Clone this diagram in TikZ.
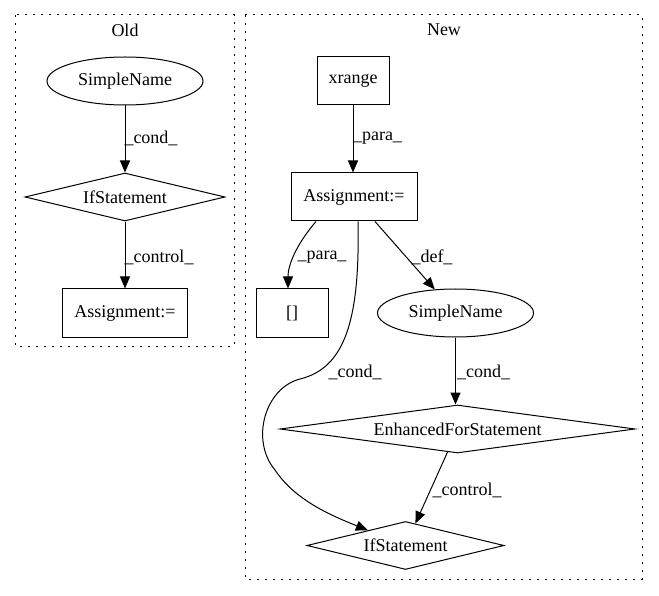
\documentclass[tikz,border=0pt]{standalone}
\usepackage{fontspec}
\setmainfont{Liberation Serif}
\usetikzlibrary{shapes.geometric,arrows.meta,calc}
\begin{document}
\begin{tikzpicture}[x=1pt,y=-1pt,
  every node/.style={font=\fontsize{18}{22}\selectfont, inner sep=0pt},
  boxnode/.style={draw, line width=1pt, rectangle, minimum height=48pt},
  ellnode/.style={draw, line width=1pt, ellipse, minimum width=156pt, minimum height=48pt},
  dianode/.style={draw, line width=1pt, diamond, minimum height=48pt},
  edge/.style={line width=1pt, -{Triangle[length=12pt,width=10pt]}},
  cluster/.style={draw, line width=1pt, dash pattern=on 2pt off 6pt}
]
\useasboundingbox (0,0) rectangle (659,596);
\draw[cluster] (15,15) rectangle (234,346);
\draw[cluster] (245,15) rectangle (642,579);
\node (oldlbl) at (125,30) {Old};
\node (newlbl) at (444,30) {New};

% Old
\node[ellnode] (osn) at (125,81) {SimpleName};
\node[dianode, minimum width=200pt, aspect=4.17] (oif) at (125,197) {IfStatement};
\node[boxnode, minimum width=125pt] (oasg) at (125,313) {Assignment:=};
\draw[edge] (osn) -- (oif);
\draw[edge] (oif) -- (oasg);
\node (ol1) at (151,138) {\_cond\_};
\node (ol2) at (159,257) {\_control\_};

% New
\node[boxnode, minimum width=72pt] (xr) at (353,81) {xrange};
\node[boxnode, minimum width=126pt] (asg) at (354,197) {Assignment:=};
\node[boxnode, minimum width=72pt] (br) at (292,313) {[]};
\node[ellnode] (nsn) at (455.5,313) {SimpleName};
\node[dianode, minimum width=355pt, aspect=7.4] (efs) at (457.5,429) {EnhancedForStatement};
\node[dianode, minimum width=197pt, aspect=4.2] (nif) at (405.5,545.5) {IfStatement};

\draw[edge] (xr.south) -- (xr.south |- asg.north);
\draw[edge] ($(asg.south)+(-38,0)$) .. controls (300,240) and (288,262) .. ($(br.north)+(-4,0)$);
\draw[edge] ($(asg.south)+(21,0)$) -- (nsn);
\draw[edge] ($(asg.south)+(4,0)$) .. controls (360,320) and (345,368) .. (300,379)
  .. controls (265,388) and (250,440) .. (275,470)
  .. controls (295,500) and (330,515) .. (nif);
\draw[edge] (nsn.south) -- (nsn.south |- efs.north);
\draw[edge] ($(efs.south)+(-10,-1.35)$) -- (nif);

\node (nl1) at (377.5,138) {\_para\_};
\node (nl2) at (322,257) {\_para\_};
\node (nl3) at (432,257) {\_def\_};
\node (nl4) at (355,372) {\_cond\_};
\node (nl5) at (483.5,372) {\_cond\_};
\node (nl6) at (467,490) {\_control\_};
\end{tikzpicture}
\end{document}
